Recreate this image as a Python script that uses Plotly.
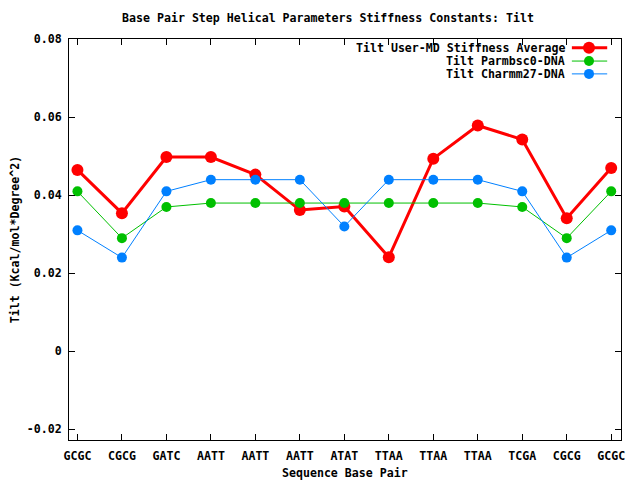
import plotly.graph_objects as go

categories = ["GCGC", "CGCG", "GATC", "AATT", "AATT", "AATT", "ATAT",
              "TTAA", "TTAA", "TTAA", "TCGA", "CGCG", "GCGC"]
user_md = [0.0465, 0.0354, 0.0498, 0.0498, 0.0453, 0.0362, 0.0371,
           0.0241, 0.0494, 0.0579, 0.0543, 0.0341, 0.0470]
parmbsc0 = [0.041, 0.029, 0.037, 0.038, 0.038, 0.038, 0.038,
            0.038, 0.038, 0.038, 0.037, 0.029, 0.041]
charmm27 = [0.031, 0.024, 0.041, 0.044, 0.044, 0.044, 0.032,
            0.044, 0.044, 0.044, 0.041, 0.024, 0.031]
names = ["Tilt User-MD Stiffness Average", "Tilt Parmbsc0-DNA", "Tilt Charmm27-DNA"]
y_ticks = [-0.02, 0, 0.02, 0.04, 0.06, 0.08]
y_tick_text = ["-0.02", "0", "0.02", "0.04", "0.06", "0.08"]

FONT = "DejaVu Sans Mono"
fs = 11.6
x_idx = list(range(len(categories)))
PW, PH = 552, 401

series = [
    (user_md, "#ff0000", 3, 12),
    (parmbsc0, "#00c000", 1, 10),
    (charmm27, "#0080ff", 1, 10),
]

fig = go.Figure()
for (vals, col, lw, ms), nm in zip(series, names):
    fig.add_trace(go.Scatter(
        x=x_idx, y=vals, mode="lines+markers", name=nm,
        line=dict(color=col, width=lw),
        marker=dict(color=col, size=ms),
        showlegend=False,
    ))

# manual gnuplot-style legend (text left of sample)
row_y = [0.978, 0.945, 0.913]
for nm, (vals, col, lw, ms), yy in zip(names, series, row_y):
    fig.add_annotation(x=0.902, y=yy, xref="paper", yref="paper",
                       text="<b>%s</b>" % nm, showarrow=False,
                       xanchor="right", yanchor="middle",
                       font=dict(family=FONT, size=fs, color="black"))
    fig.add_shape(type="line", xref="paper", yref="paper",
                  x0=0.911, x1=0.975, y0=yy, y1=yy,
                  line=dict(color=col, width=lw))
    r = ms / 2.0
    cx = 520.0
    fig.add_shape(type="circle", xref="paper", yref="paper",
                  x0=(cx - r) / PW, x1=(cx + r) / PW,
                  y0=yy - r / PH, y1=yy + r / PH,
                  fillcolor=col, line=dict(color=col, width=0))

# x-axis title
fig.add_annotation(x=0.5, y=-0.0823, xref="paper", yref="paper",
                   text="<b>Sequence Base Pair</b>", showarrow=False,
                   xanchor="center", yanchor="middle",
                   font=dict(family=FONT, size=fs, color="black"))

fig.update_layout(
    width=640, height=480,
    margin=dict(l=61, r=27, t=31, b=48, autoexpand=False),
    paper_bgcolor="white", plot_bgcolor="white",
    font=dict(family=FONT, size=fs, color="black"),
    title=dict(text="<b>Base Pair Step Helical Parameters Stiffness Constants: Tilt</b>",
               x=0.5, xanchor="center", y=0.979, yanchor="middle",
               font=dict(family=FONT, size=fs)),
)
fig.update_xaxes(
    range=[-0.19, 12.22], tickmode="array", tickvals=x_idx,
    ticktext=["<b>%s</b>" % c for c in categories],
    showline=True, linecolor="black", linewidth=1, mirror="ticks",
    ticks="inside", ticklen=6, tickcolor="black", ticklabelstandoff=5,
    showgrid=False, zeroline=False, automargin=False,
)
fig.update_yaxes(
    range=[-0.0228, 0.0801], tickmode="array", tickvals=y_ticks,
    ticktext=["<b>%s</b>" % t for t in y_tick_text],
    showline=True, linecolor="black", linewidth=1, mirror="ticks",
    ticks="inside", ticklen=6, tickcolor="black", ticklabelstandoff=4,
    showgrid=False, zeroline=False, automargin=False,
    title=dict(text="<b>Tilt (Kcal/mol*Degree^2)</b>", standoff=8,
               font=dict(family=FONT, size=fs)),
)

fig.write_html("out.html")
